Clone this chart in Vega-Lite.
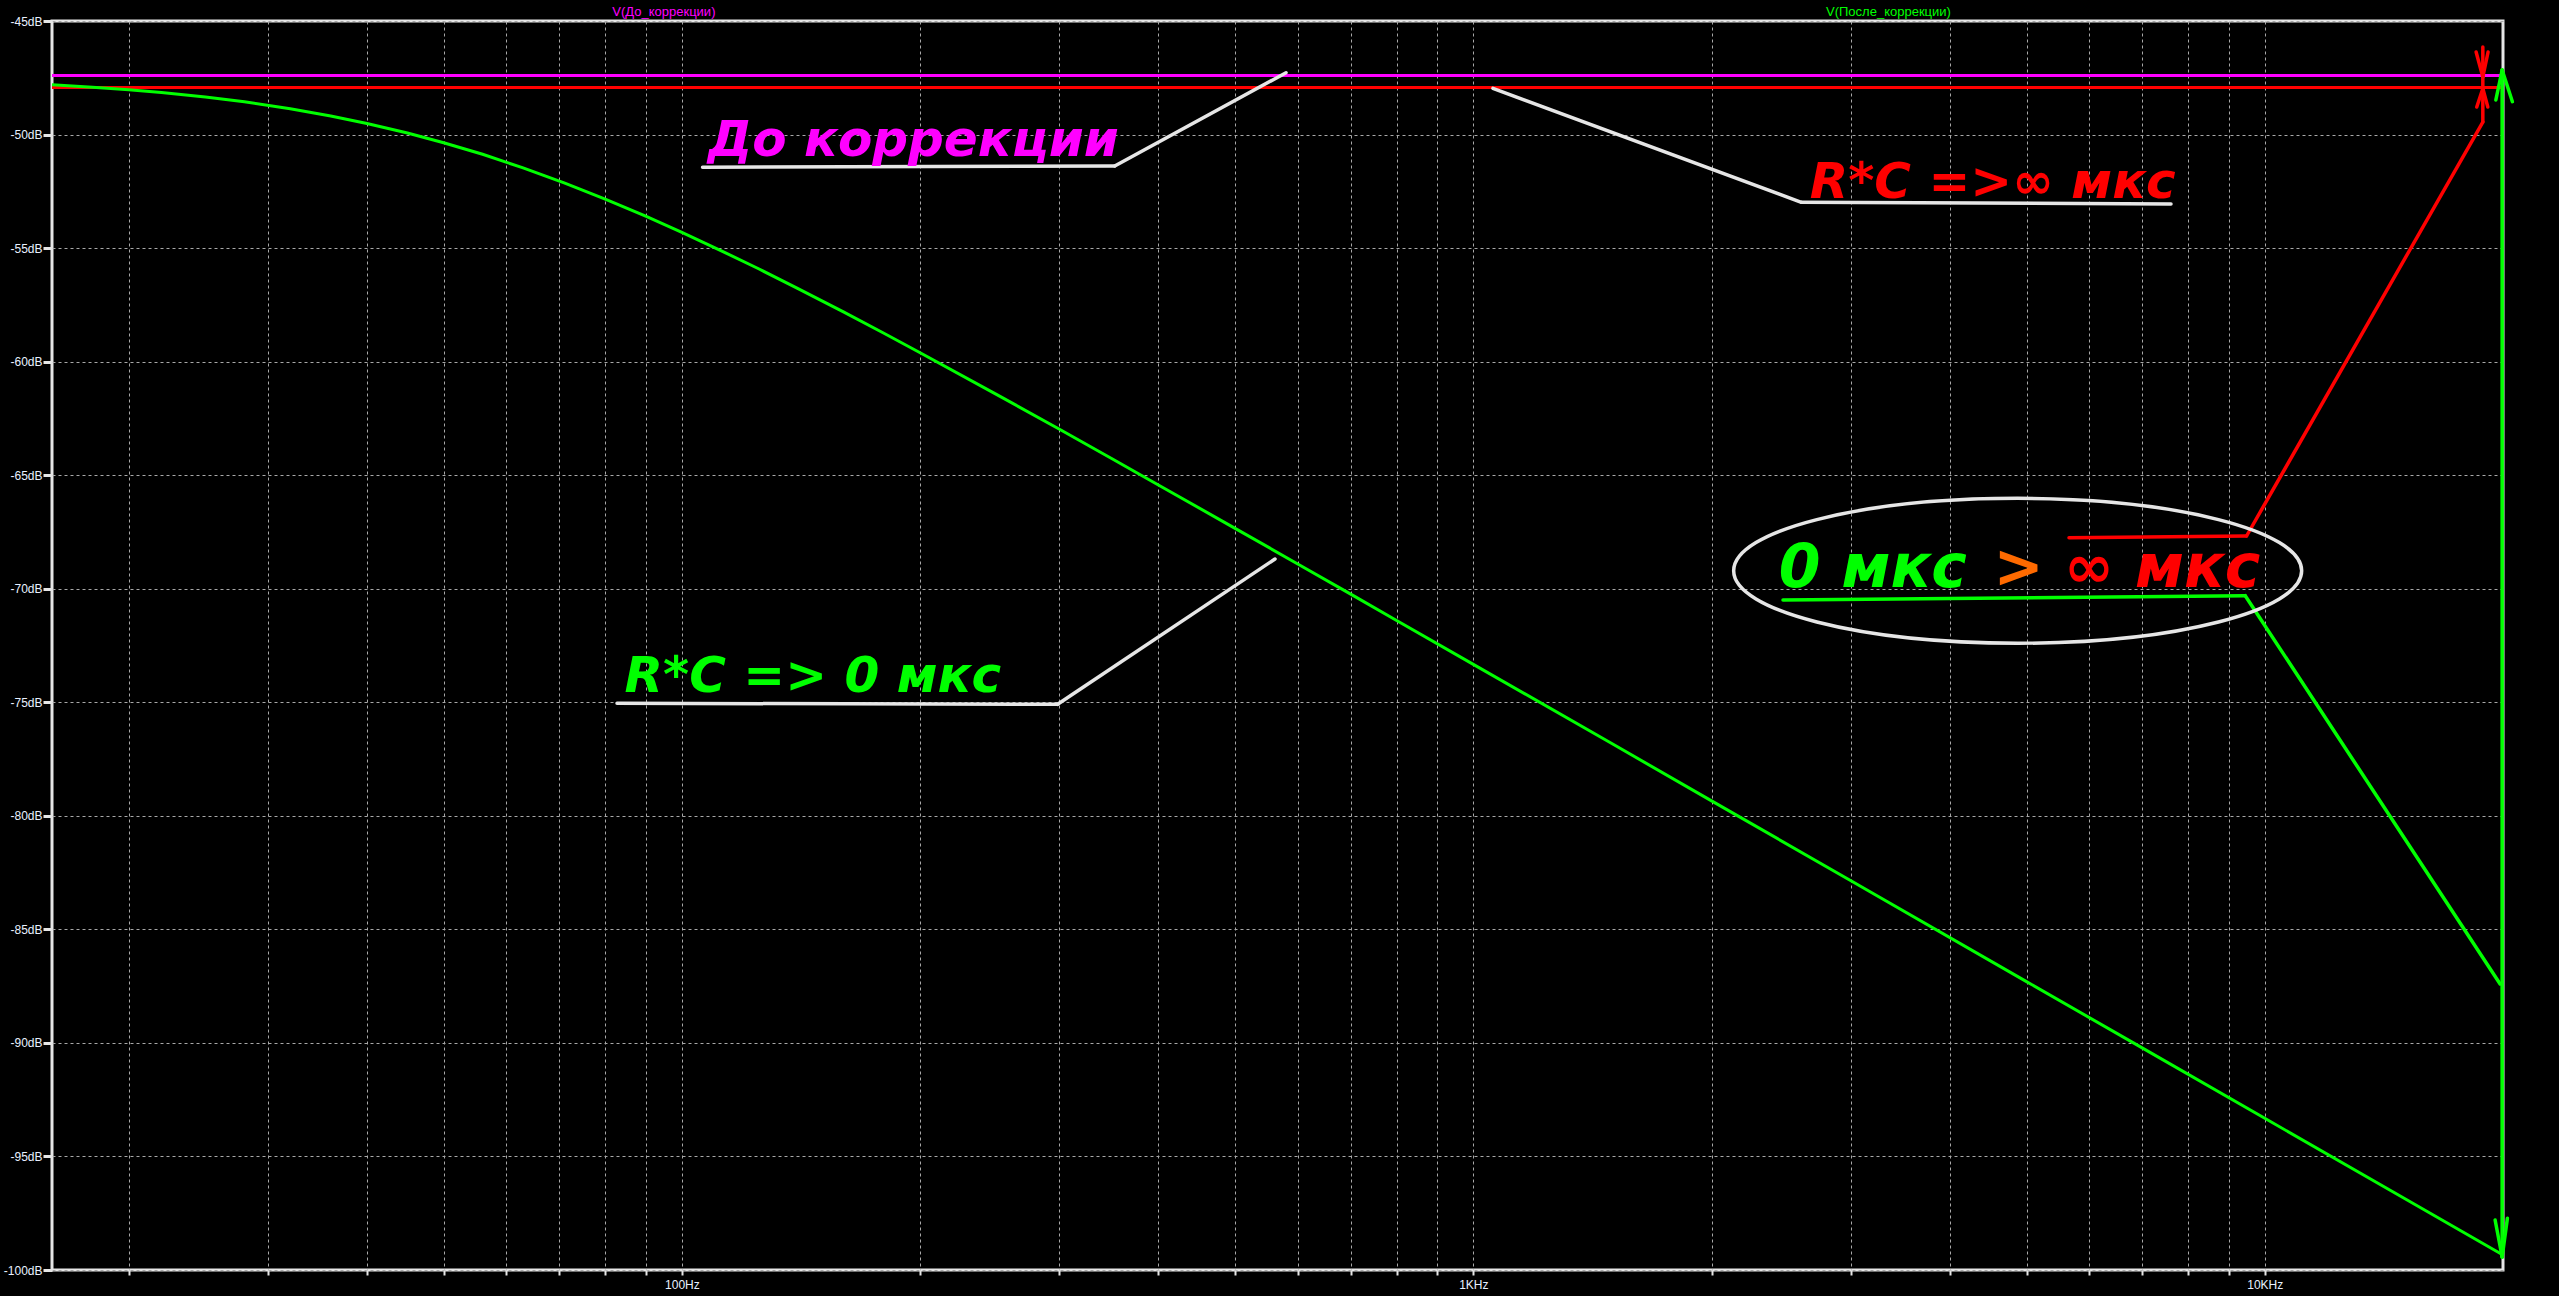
{
  "$schema": "https://vega.github.io/schema/vega-lite/v6.json",
  "autosize": "none",
  "padding": {"left": 52, "top": 21, "right": 56, "bottom": 26},
  "width": 2451,
  "height": 1249,
  "background": "#000000",
  "config": {
    "view": {"stroke": "#e6e6e6", "strokeWidth": 3},
    "axis": {
      "domain": false,
      "grid": true,
      "gridDash": [3, 3],
      "gridColor": "#a8a8a8",
      "gridWidth": 1,
      "tickColor": "#e6e6e6",
      "labelColor": "#e8f0ff",
      "labelFont": "Liberation Sans",
      "labelFontSize": 12,
      "labelFlush": false,
      "labelBound": false,
      "labelOverlap": false,
      "title": null
    }
  },
  "datasets": {
    "curves": [
      {"f": 16, "db": -47.40, "trace": "До"},
      {"f": 20000, "db": -47.40, "trace": "До"},
      {"f": 16, "db": -47.93, "trace": "∞"},
      {"f": 20000, "db": -47.93, "trace": "∞"},
      {"f": 16, "db": -47.81, "trace": "После"},
      {"f": 18, "db": -47.92, "trace": "После"},
      {"f": 20, "db": -48.03, "trace": "После"},
      {"f": 22, "db": -48.15, "trace": "После"},
      {"f": 25, "db": -48.35, "trace": "После"},
      {"f": 28, "db": -48.56, "trace": "После"},
      {"f": 32, "db": -48.86, "trace": "После"},
      {"f": 36, "db": -49.18, "trace": "После"},
      {"f": 40, "db": -49.51, "trace": "После"},
      {"f": 45, "db": -49.93, "trace": "После"},
      {"f": 50, "db": -50.36, "trace": "После"},
      {"f": 56, "db": -50.87, "trace": "После"},
      {"f": 63, "db": -51.47, "trace": "После"},
      {"f": 71, "db": -52.13, "trace": "После"},
      {"f": 80, "db": -52.84, "trace": "После"},
      {"f": 90, "db": -53.59, "trace": "После"},
      {"f": 100, "db": -54.31, "trace": "После"},
      {"f": 112, "db": -55.11, "trace": "После"},
      {"f": 125, "db": -55.91, "trace": "После"},
      {"f": 140, "db": -56.77, "trace": "После"},
      {"f": 160, "db": -57.81, "trace": "После"},
      {"f": 180, "db": -58.75, "trace": "После"},
      {"f": 200, "db": -59.61, "trace": "После"},
      {"f": 250, "db": -61.45, "trace": "После"},
      {"f": 300, "db": -62.98, "trace": "После"},
      {"f": 350, "db": -64.29, "trace": "После"},
      {"f": 400, "db": -65.43, "trace": "После"},
      {"f": 500, "db": -67.34, "trace": "После"},
      {"f": 600, "db": -68.91, "trace": "После"},
      {"f": 700, "db": -70.24, "trace": "После"},
      {"f": 800, "db": -71.40, "trace": "После"},
      {"f": 1000, "db": -73.33, "trace": "После"},
      {"f": 1500, "db": -76.84, "trace": "После"},
      {"f": 2000, "db": -79.34, "trace": "После"},
      {"f": 3000, "db": -82.86, "trace": "После"},
      {"f": 5000, "db": -87.30, "trace": "После"},
      {"f": 7000, "db": -90.22, "trace": "После"},
      {"f": 10000, "db": -93.32, "trace": "После"},
      {"f": 15000, "db": -96.84, "trace": "После"},
      {"f": 20000, "db": -99.34, "trace": "После"}
    ],
    "segs": [
      {"f1": 106.2, "d1": -51.44, "f2": 352.3, "d2": -51.385, "trace": "выноска"},
      {"f1": 352.3, "d1": -51.385, "f2": 579.9, "d2": -47.277, "trace": "выноска"},
      {"f1": 1058.7, "d1": -47.964, "f2": 2597, "d2": -52.983, "trace": "выноска"},
      {"f1": 2597, "d1": -52.983, "f2": 7613, "d2": -53.058, "trace": "выноска"},
      {"f1": 82.8, "d1": -75.045, "f2": 298.4, "d2": -75.089, "trace": "выноска"},
      {"f1": 298.4, "d1": -75.089, "f2": 561.6, "d2": -68.691, "trace": "выноска"},
      {"f1": 5658, "d1": -67.753, "f2": 9484, "d2": -67.678, "trace": "∞"},
      {"f1": 9484, "d1": -67.678, "f2": 18860, "d2": -49.448, "trace": "∞"},
      {"f1": 18860, "d1": -49.448, "f2": 18860, "d2": -46.145, "trace": "∞"},
      {"f1": 18495, "d1": -46.365, "f2": 18860, "d2": -47.466, "trace": "∞"},
      {"f1": 19150, "d1": -46.365, "f2": 18860, "d2": -47.466, "trace": "∞"},
      {"f1": 18530, "d1": -48.787, "f2": 18860, "d2": -47.972, "trace": "∞"},
      {"f1": 19135, "d1": -48.787, "f2": 18860, "d2": -47.972, "trace": "∞"},
      {"f1": 2462, "d1": -70.496, "f2": 9448, "d2": -70.307, "trace": "После"},
      {"f1": 9448, "d1": -70.307, "f2": 19833, "d2": -87.406, "trace": "После"},
      {"f1": 19950, "d1": -47.158, "f2": 19950, "d2": -99.427, "trace": "После"},
      {"f1": 19587, "d1": -48.479, "f2": 19950, "d2": -47.158, "trace": "После"},
      {"f1": 20555, "d1": -48.554, "f2": 19950, "d2": -47.158, "trace": "После"},
      {"f1": 19547, "d1": -97.798, "f2": 19950, "d2": -99.427, "trace": "После"},
      {"f1": 20258, "d1": -97.723, "f2": 19950, "d2": -99.427, "trace": "После"}
    ],
    "texts": [
      {"f": 107.8, "db": -50.945, "label": "До коррекции", "trace": "До", "group": "крупный"},
      {"f": 2661, "db": -52.807, "label": "R*C =>∞ мкс", "trace": "∞", "group": "крупный"},
      {"f": 84.65, "db": -74.535, "label": "R*C => 0 мкс", "trace": "После", "group": "крупный"},
      {"f": 2432, "db": -69.911, "label": "0 мкс", "trace": "После", "group": "эллипс"},
      {"f": 4542, "db": -69.911, "label": ">", "trace": ">", "group": "эллипс"},
      {"f": 5577, "db": -69.911, "label": "∞ мкс", "trace": "∞", "group": "эллипс"},
      {"f": 94.9, "db": -44.76, "label": "V(До_коррекции)", "trace": "До", "group": "заголовок"},
      {"f": 3346, "db": -44.76, "label": "V(После_коррекции)", "trace": "После", "group": "заголовок"}
    ],
    "ellipse": [
      {"f": 4873, "db": -69.21}
    ]
  },
  "encoding": {
    "x": {
      "field": "f", "type": "quantitative",
      "scale": {"type": "log", "domain": [16, 20000], "nice": false},
      "axis": {
        "values": [20, 30, 40, 50, 60, 70, 80, 90, 100, 200, 300, 400, 500, 600, 700, 800, 900, 1000, 2000, 3000, 4000, 5000, 6000, 7000, 8000, 9000, 10000],
        "labelExpr": "datum.value == 100 ? '100Hz' : datum.value == 1000 ? '1KHz' : datum.value == 10000 ? '10KHz' : ''",
        "tickSize": 5,
        "tickWidth": 2,
        "labelPadding": 4
      }
    },
    "y": {
      "field": "db", "type": "quantitative",
      "scale": {"domain": [-100, -45], "nice": false, "zero": false},
      "axis": {
        "values": [-100, -95, -90, -85, -80, -75, -70, -65, -60, -55, -50, -45],
        "labelExpr": "datum.value + 'dB'",
        "tickSize": 9,
        "tickWidth": 3,
        "labelPadding": 1
      }
    },
    "color": {
      "field": "trace", "type": "nominal",
      "scale": {"domain": ["До", "После", "∞", ">", "выноска"], "range": ["#ff00ff", "#00ff00", "#ff0000", "#ff6a00", "#e6e6e6"]},
      "legend": null
    }
  },
  "layer": [
    {
      "data": {"name": "curves"},
      "mark": {"type": "line", "strokeWidth": 3},
      "encoding": {"detail": {"field": "trace"}}
    },
    {
      "data": {"name": "segs"},
      "mark": {"type": "rule", "strokeWidth": 3.5, "strokeCap": "round"},
      "encoding": {
        "x": {"field": "f1", "type": "quantitative"},
        "y": {"field": "d1", "type": "quantitative"},
        "x2": {"field": "f2"},
        "y2": {"field": "d2"}
      }
    },
    {
      "data": {"name": "ellipse"},
      "mark": {"type": "point", "shape": "M-1,0A1,0.255 0 1,1 1,0A1,0.255 0 1,1 -1,0Z", "size": 322624, "filled": false, "stroke": "#e6e6e6", "strokeWidth": 3.5, "opacity": 1},
      "encoding": {"color": {"value": "#e6e6e6"}}
    },
    {
      "data": {"name": "texts"},
      "transform": [{"filter": "datum.group == 'крупный'"}],
      "mark": {"type": "text", "font": "DejaVu Sans", "fontWeight": "bold", "fontStyle": "italic", "fontSize": 50, "align": "left", "baseline": "alphabetic"},
      "encoding": {"text": {"field": "label"}}
    },
    {
      "data": {"name": "texts"},
      "transform": [{"filter": "datum.group == 'эллипс'"}],
      "mark": {"type": "text", "font": "DejaVu Sans", "fontWeight": "bold", "fontStyle": "italic", "fontSize": 60, "align": "left", "baseline": "alphabetic"},
      "encoding": {"text": {"field": "label"}}
    },
    {
      "data": {"name": "texts"},
      "transform": [{"filter": "datum.group == 'заголовок'"}],
      "mark": {"type": "text", "font": "Liberation Sans", "fontSize": 13, "align": "center", "baseline": "alphabetic"},
      "encoding": {"text": {"field": "label"}}
    }
  ]
}
